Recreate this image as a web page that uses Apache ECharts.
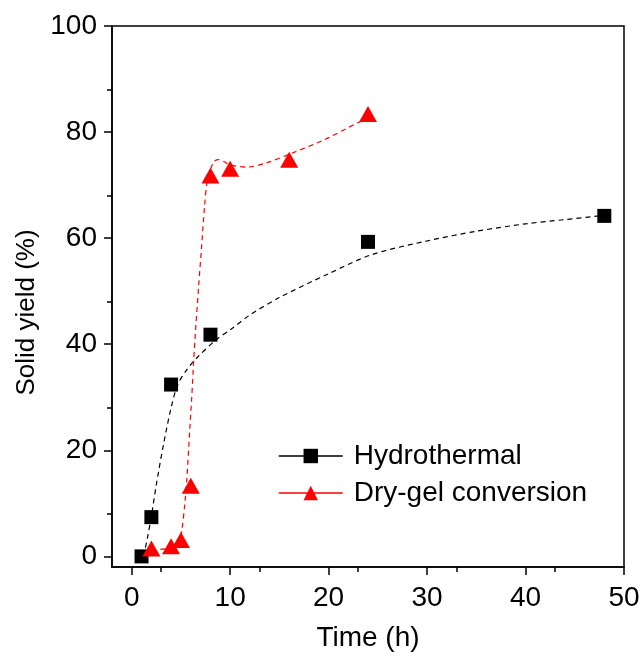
<!DOCTYPE html>
<html>
<head>
<meta charset="utf-8">
<script src="https://cdn.jsdelivr.net/npm/echarts@6/dist/echarts.min.js"></script>
<style>html,body{margin:0;padding:0;background:#fff;}#c{width:643px;height:659px;}</style>
</head>
<body>
<div id="c"></div>
<script>
// Measured points
const hydroTime = [1, 2, 4, 8, 24, 48];
const hydroYield = [0, 7.4, 32.4, 41.8, 59.3, 64.2];
const dryTime = [2, 4, 5, 6, 8, 10, 16, 24];
const dryYield = [1.5, 1.9, 3.1, 13.3, 71.8, 73.1, 74.8, 83.4];
// Dashed fit curves
const hydroFitX = [1.2, 1.6, 2.0, 2.5, 3.2, 4.0, 4.7, 5.6, 6.6, 8.6, 10, 12, 15, 20, 24.4, 30.3, 35, 40, 44, 48];
const hydroFitY = [0, 3.5, 7.6, 13.5, 20.8, 28, 32.5, 35.2, 37.4, 40.9, 42.7, 45.5, 48.8, 53.3, 56.9, 59.6, 61.3, 62.7, 63.5, 64.3];
const dryFitX = [2, 4, 4.8, 5.1, 5.4, 5.6, 5.9, 6.1, 6.3, 6.5, 6.8, 7.1, 7.4, 7.7, 8.3, 8.8, 9.4, 10, 11.7, 13.7, 16.1, 19.5, 22.9, 24];
const dryFitY = [1.2, 1.6, 2.6, 5, 10, 14.5, 24, 30, 37, 43, 51, 58.4, 66, 71, 74.3, 74.8, 74.4, 73.8, 73.4, 74.2, 75.9, 78.5, 81.7, 82.6];
const xTicks = [0, 10, 20, 30, 40, 50];
const yTicks = [0, 20, 40, 60, 80, 100];

const zip = (a, b) => a.map((v, i) => [v, b[i]]);
const FONT = 'Liberation Sans, Arial, sans-serif';
const chart = echarts.init(document.getElementById('c'), null, {renderer: 'canvas'});
chart.setOption({
  animation: false,
  backgroundColor: '#fff',
  grid: {left: 112, right: 19, top: 26, bottom: 92, show: true, borderColor: '#000', borderWidth: 1.5, backgroundColor: 'transparent'},
  xAxis: {
    type: 'value', min: -2, max: 50, interval: 10,
    name: 'Time (h)', nameLocation: 'middle', nameGap: 57,
    nameTextStyle: {fontFamily: FONT, fontSize: 28, color: '#000'},
    axisLine: {show: true, onZero: false, lineStyle: {color: '#000', width: 1.5}},
    axisTick: {show: true, inside: false, length: 8, lineStyle: {color: '#000', width: 1.5}, customValues: xTicks},
    minorTick: {show: true, splitNumber: 2, length: 5, lineStyle: {color: '#000', width: 1.5}},
    axisLabel: {fontFamily: FONT, fontSize: 28, color: '#000', margin: 17, customValues: xTicks},
    splitLine: {show: false}
  },
  yAxis: {
    type: 'value', min: -2, max: 100, interval: 20,
    name: 'Solid yield (%)', nameLocation: 'middle', nameGap: 68,
    nameTextStyle: {fontFamily: FONT, fontSize: 26, color: '#000', padding: [0, 32, 0, 0]},
    axisLine: {show: true, onZero: false, lineStyle: {color: '#000', width: 1.5}},
    axisTick: {show: true, inside: false, length: 8, lineStyle: {color: '#000', width: 1.5}, customValues: yTicks},
    minorTick: {show: true, splitNumber: 2, length: 5, lineStyle: {color: '#000', width: 1.5}},
    axisLabel: {fontFamily: FONT, fontSize: 28, color: '#000', margin: 15, customValues: yTicks},
    splitLine: {show: false}
  },
  legend: {
    orient: 'vertical', left: 273, top: 436,
    itemWidth: 64, itemHeight: 18, itemGap: 7,
    textStyle: {fontFamily: FONT, fontSize: 28, color: '#000', lineHeight: 30, padding: [0, 0, 0, 6]},
    data: [
      {name: 'Hydrothermal', lineStyle: {color: '#000', width: 1.5, type: 'solid', opacity: 1}, itemStyle: {color: '#000'}},
      {name: 'Dry-gel conversion', lineStyle: {color: '#ff0000', width: 1.5, type: 'solid', opacity: 1}, itemStyle: {color: '#ff0000'}}
    ]
  },
  series: [
    {
      name: 'Hydrothermal fit', type: 'line', data: zip(hydroFitX, hydroFitY), smooth: 0.3,
      showSymbol: false, symbol: 'none', z: 2, silent: true,
      lineStyle: {color: '#000', width: 1.2, type: [5, 4]}
    },
    {
      name: 'Dry-gel fit', type: 'line', data: zip(dryFitX, dryFitY), smooth: 0.3,
      showSymbol: false, symbol: 'none', z: 2, silent: true,
      lineStyle: {color: '#ff0000', width: 1.2, type: [5, 4]}
    },
    {
      name: 'Hydrothermal', type: 'line', data: zip(hydroTime, hydroYield),
      symbol: 'rect', symbolSize: 14, z: 5,
      itemStyle: {color: '#000'}, lineStyle: {opacity: 0, color: '#000'}
    },
    {
      name: 'Dry-gel conversion', type: 'line', data: zip(dryTime, dryYield),
      symbol: 'triangle', symbolSize: [18, 16], z: 5,
      itemStyle: {color: '#ff0000'}, lineStyle: {opacity: 0, color: '#ff0000'}
    }
  ]
});
</script>
</body>
</html>
